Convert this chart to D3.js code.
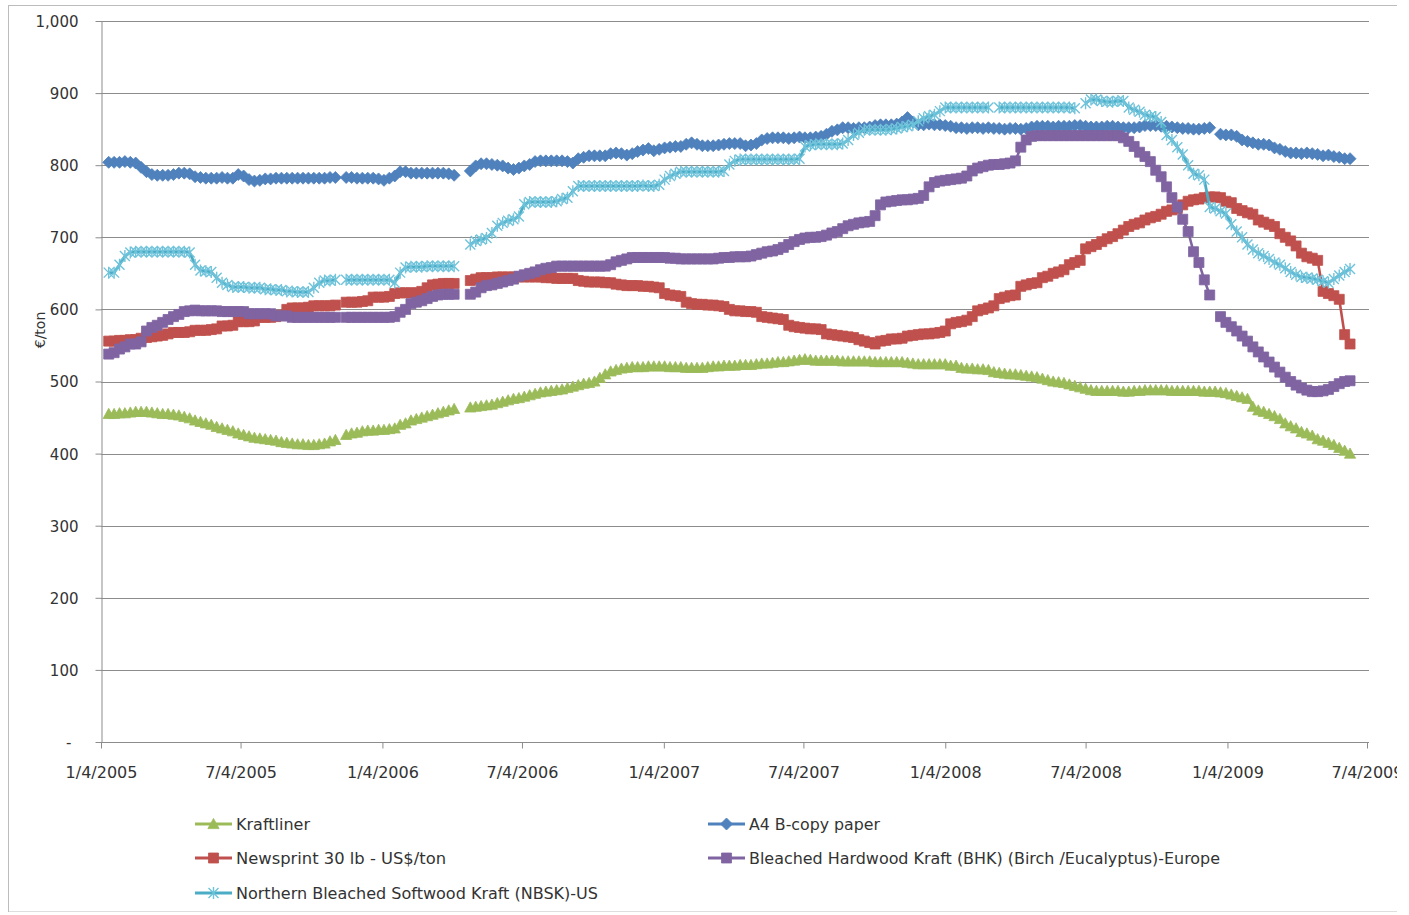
<!DOCTYPE html>
<html>
<head>
<meta charset="utf-8">
<script src="https://cdn.jsdelivr.net/npm/d3@7"></script>
<style>
  body { margin: 0; background: #ffffff; }
  svg text { font-family: "DejaVu Sans", Verdana, sans-serif; fill: #333333; }
  svg .legend text { font-family: "Liberation Sans Narrow", "DejaVu Sans Condensed", "Liberation Sans", sans-serif; }
</style>
</head>
<body>
<svg id="chart" width="1409" height="915"></svg>
<script>
// ---- data: weekly prices (Fridays), Jan 14 2005 .. Jun 12 2009, null = no quote ----
const firstWeek = new Date(2005, 0, 14);
const lastWeek = new Date(2009, 5, 12);

const yTicks = [0, 100, 200, 300, 400, 500, 600, 700, 800, 900, 1000];
const xTickLabels = ["1/4/2005", "7/4/2005", "1/4/2006", "7/4/2006", "1/4/2007",
                     "7/4/2007", "1/4/2008", "7/4/2008", "1/4/2009", "7/4/2009"];

const kraftliner = [
  455,455,456,456,457,458,458,458,457,456,455,455,454,453,
  451,449,446,444,442,440,437,435,433,431,428,426,424,422,421,420,419,418,416,415,414,413,413,412,412,413,414,417,419,
  null,
  426,428,429,431,432,432,433,433,434,435,440,442,446,448,450,452,454,456,458,460,462,
  null,null,
  464,465,466,467,468,470,472,474,476,477,479,481,483,485,486,487,488,489,491,493,495,497,498,500,505,510,514,516,518,519,
  520,520,520,521,521,521,521,520,520,520,519,519,519,519,520,521,521,522,522,522,523,523,523,524,
  525,525,526,527,527,528,529,530,531,530,529,529,529,529,529,528,528,528,528,528,528,527,
  527,527,527,527,527,526,525,524,524,524,524,524,524,522,522,
  519,518,518,517,517,516,
  513,512,511,510,510,509,508,507,506,
  504,502,500,499,498,496,494,492,
  490,488,487,487,487,487,487,486,486,487,487,488,488,488,488,488,487,487,487,487,487,487,486,486,486,
  485,484,482,480,478,476,465,460,458,455,452,448,442,438,435,430,428,425,420,418,415,412,408,404,400
];

const a4Copy = [
  804,804,804,805,804,803,
  797,791,787,
  786,786,786,787,789,789,788,
  784,783,782,782,782,783,782,782,
  787,785,780,778,779,
  781,781,782,782,782,782,782,782,782,782,782,782,783,783,
  null,
  783,783,782,782,782,782,781,779,782,785,
  791,791,789,789,789,789,789,789,789,788,786,
  null,null,
  792,799,802,802,801,800,799,796,794,796,799,801,805,806,806,806,806,806,805,803,
  809,811,813,813,813,813,816,817,816,814,816,819,821,823,820,822,824,825,826,826,
  829,831,829,827,827,827,828,829,830,830,830,
  827,828,830,835,837,838,838,838,837,838,839,838,838,839,840,843,847,849,852,852,
  851,852,852,853,855,856,856,856,857,860,866,860,856,856,857,856,856,855,854,852,
  852,851,852,852,851,852,851,851,850,851,851,850,851,853,854,854,854,853,854,854,854,
  855,855,854,853,853,853,854,854,853,852,852,852,853,855,855,855,854,854,853,852,851,851,850,850,851,852,
  null,
  843,842,842,840,835,833,831,829,829,828,824,822,819,817,817,816,817,816,815,813,814,812,811,809,809
];

const newsprint = [
  556,556,557,557,558,558,
  560,561,562,563,564,566,
  568,568,568,569,
  571,571,571,572,573,
  577,577,578,
  583,583,583,584,
  589,589,589,590,592,
  600,602,602,602,603,
  605,605,605,605,606,
  null,
  610,610,610,611,612,
  617,617,617,618,
  622,623,623,623,623,
  625,630,634,635,636,636,636,
  null,null,
  640,642,644,644,644,645,645,645,645,
  645,645,645,645,645,644,644,643,643,643,643,
  640,639,638,638,638,637,637,
  635,634,633,633,633,632,632,631,630,
  622,620,619,618,
  610,608,607,607,606,606,605,604,
  600,598,598,597,597,596,
  590,589,588,587,586,
  578,576,575,574,573,573,572,
  566,565,564,563,562,561,
  558,556,554,552,556,557,
  559,559,560,
  563,564,565,566,566,567,568,570,
  580,582,583,585,590,
  598,600,602,605,
  615,617,619,620,
  632,634,636,637,
  644,646,650,652,655,
  662,665,668,
  684,687,690,694,698,701,705,710,715,718,720,724,727,729,732,736,738,740,745,750,752,753,755,756,
  756,755,750,748,
  740,737,734,732,724,721,718,715,705,700,695,688,678,
  673,671,668,625,622,619,614,565,552
];

const bhk = [
  538,540,545,548,552,552,555,
  570,575,578,582,586,590,593,597,598,599,
  598,598,598,598,597,597,597,597,597,
  594,594,594,594,594,591,591,591,
  589,589,589,589,589,589,589,589,589,
  null,
  589,589,589,589,589,589,589,589,589,590,596,600,608,610,612,
  615,618,620,621,621,621,
  null,null,
  621,624,630,633,634,636,638,640,642,646,648,650,652,655,657,658,660,660,660,660,
  660,660,660,660,660,660,662,666,668,670,
  672,672,672,672,672,672,672,671,671,670,670,670,670,670,670,670,671,672,672,673,673,
  673,674,676,678,680,681,683,686,690,694,697,699,700,700,701,703,706,708,712,716,
  718,720,721,722,730,745,749,750,751,752,752,753,754,758,770,776,778,779,780,781,
  782,785,792,796,798,800,801,801,802,803,806,825,835,840,841,841,841,841,841,841,841,
  841,841,841,841,841,841,841,841,841,838,833,826,818,812,805,793,784,770,755,742,725,708,680,665,641,620,
  null,
  590,582,576,570,563,556,548,541,534,527,520,513,506,500,495,491,488,486,486,487,489,493,497,500,501
];

const nbsk = [
  651,651,
  662,674,679,680,680,680,680,680,680,680,680,680,680,679,
  662,654,653,652,
  644,637,634,631,
  631,631,630,630,630,
  628,628,627,627,
  625,625,624,624,624,
  630,637,640,640,641,
  null,
  641,641,641,641,641,641,641,641,641,
  637,
  651,658,659,659,659,
  660,660,660,660,660,660,
  null,null,
  690,695,697,699,706,716,720,723,725,729,
  746,749,749,749,749,749,750,753,755,
  764,771,771,771,771,771,771,771,771,771,771,771,771,772,771,771,773,
  780,785,788,791,791,791,791,791,791,791,791,792,
  801,806,808,
  808,808,808,808,808,808,808,808,808,808,809,
  826,828,829,829,829,829,829,830,
  835,842,845,849,849,849,849,849,850,851,
  853,854,856,861,865,868,870,875,880,
  880,880,880,880,880,880,880,880,
  null,
  880,880,880,880,880,880,880,880,880,880,880,880,880,880,879,
  null,
  886,891,891,889,888,888,889,889,
  880,877,874,870,868,867,860,842,835,825,815,800,788,786,780,742,740,736,733,718,708,
  700,690,683,678,674,670,665,662,657,652,648,645,644,643,641,639,637,642,647,652,656
];

const seriesNames = [
  "Kraftliner",
  "A4 B-copy paper",
  "Newsprint 30 lb  - US$/ton",
  "Bleached Hardwood Kraft (BHK) (Birch /Eucalyptus)-Europe",
  "Northern Bleached Softwood Kraft (NBSK)-US"
];

// ---- drawing ----
const weeks = d3.timeFriday.range(firstWeek, d3.timeDay.offset(lastWeek, 1));
const parseTick = d3.timeParse("%m/%d/%Y");
const xTickDates = xTickLabels.map(parseTick);

const svg = d3.select("#chart");
const plot = { left: 101, right: 1367, top: 21, bottom: 742 };

svg.append("defs").append("clipPath").attr("id", "frame")
  .append("rect").attr("x", 8).attr("y", 5).attr("width", 1389).attr("height", 907);

const root = svg.append("g").attr("clip-path", "url(#frame)");

// outer chart frame
root.append("rect")
  .attr("x", 8.5).attr("y", 5.5).attr("width", 1389).attr("height", 906.5)
  .attr("fill", "#ffffff").attr("stroke", "#bcbcbc").attr("stroke-width", 1);

const x = d3.scaleTime()
  .domain([new Date(2005, 0, 4), new Date(2009, 6, 4)])
  .range([plot.left, plot.right]);
const y = d3.scaleLinear().domain([0, 1000]).range([plot.bottom, plot.top]);

// horizontal gridlines
root.append("g").selectAll("line")
  .data(yTicks.filter(v => v > 0))
  .join("line")
  .attr("x1", plot.left).attr("x2", plot.right + 2)
  .attr("y1", d => Math.round(y(d)) + 0.5).attr("y2", d => Math.round(y(d)) + 0.5)
  .attr("stroke", "#8c8c8c").attr("stroke-width", 1);

// y axis
const yAxis = root.append("g").attr("transform", `translate(${plot.left + 0.5},0)`)
  .call(d3.axisLeft(y).tickValues(yTicks).tickSize(6).tickSizeOuter(0)
    .tickFormat(d => d === 0 ? "-" : d3.format(",")(d)));
yAxis.select(".domain").attr("stroke", "#8c8c8c");
yAxis.selectAll(".tick line").attr("stroke", "#8c8c8c");
yAxis.selectAll(".tick text")
  .attr("x", -23).attr("dy", "0.36em")
  .style("font-size", "15px").style("font-family", "\"DejaVu Sans\", Verdana, sans-serif")
  .attr("fill", "#333333");
yAxis.selectAll(".tick").filter(d => d === 0).select("text").attr("x", -30);

// x axis
const xAxis = root.append("g").attr("transform", `translate(0,${plot.bottom + 0.5})`)
  .call(d3.axisBottom(x).tickValues(xTickDates).tickSize(6).tickSizeOuter(0)
    .tickFormat(d3.timeFormat("%-m/%-d/%Y")));
xAxis.select(".domain").attr("stroke", "#8c8c8c").attr("d", `M${plot.left},0H${plot.right + 2}`);
xAxis.selectAll(".tick line").attr("stroke", "#8c8c8c");
xAxis.selectAll(".tick text")
  .attr("y", 24).attr("dy", "0.71em")
  .style("font-size", "16px").style("font-family", "\"DejaVu Sans\", Verdana, sans-serif")
  .attr("fill", "#333333");

// y title
root.append("text")
  .attr("transform", "translate(45,330) rotate(-90)")
  .attr("text-anchor", "middle")
  .style("font-size", "14px")
  .text("€/ton");

// marker shapes
const markerPath = {
  triangle: "M0,-5.6L5.6,4.6L-5.6,4.6Z",
  diamond: "M0,-6L6,0L0,6L-6,0Z",
  square: "M-5,-5H5V5H-5Z",
  star: "M-5,-5L5,5M-5,5L5,-5M0,-6V6"
};

const series = [
  { name: seriesNames[0], values: kraftliner, color: "#9BBB59", marker: "triangle" },
  { name: seriesNames[1], values: a4Copy,     color: "#4F81BD", marker: "diamond" },
  { name: seriesNames[2], values: newsprint,  color: "#C0504D", marker: "square" },
  { name: seriesNames[3], values: bhk,        color: "#8064A2", marker: "square" },
  { name: seriesNames[4], values: nbsk,       color: "#4BACC6", marker: "star" }
];

const line = d3.line()
  .defined(d => d.v !== null)
  .x(d => x(d.t)).y(d => y(d.v));

function drawMarker(sel, s) {
  if (s.marker === "star") {
    sel.append("path").attr("d", markerPath.star)
      .attr("fill", "none").attr("stroke", "#6fc3da").attr("stroke-width", 1.4);
  } else {
    sel.append("path").attr("d", markerPath[s.marker])
      .attr("fill", s.color).attr("stroke", s.color).attr("stroke-width", 0.8);
  }
}

const seriesG = root.append("g");
series.forEach(s => {
  const pts = weeks.map((t, i) => ({ t, v: s.values[i] === undefined ? null : s.values[i] }));
  const g = seriesG.append("g");
  g.append("path").datum(pts)
    .attr("d", line)
    .attr("fill", "none").attr("stroke", s.color)
    .attr("stroke-width", s.marker === "star" ? 2.8 : 2.6)
    .attr("stroke-linejoin", "round");
  g.selectAll("g.pt").data(pts.filter(d => d.v !== null)).join("g")
    .attr("class", "pt")
    .attr("transform", d => `translate(${x(d.t)},${y(d.v)})`)
    .each(function () { drawMarker(d3.select(this), s); });
});

// legend
const legendItems = [
  { s: series[0], lx: 195, ly: 824, w: 74 },
  { s: series[1], lx: 708, ly: 824, w: 131 },
  { s: series[2], lx: 195, ly: 858, w: 210 },
  { s: series[3], lx: 708, ly: 858, w: 471 },
  { s: series[4], lx: 195, ly: 893, w: 362 }
];
const legend = root.append("g").attr("class", "legend");
legendItems.forEach(it => {
  const g = legend.append("g").attr("transform", `translate(${it.lx},${it.ly})`);
  g.append("line").attr("x1", 0).attr("x2", 37).attr("y1", 0).attr("y2", 0)
    .attr("stroke", it.s.color).attr("stroke-width", 2.8);
  const m = g.append("g").attr("transform", "translate(18.5,0)");
  drawMarker(m, it.s);
  g.append("text")
    .attr("x", 41).attr("y", 0).attr("dy", "0.36em")
    .attr("textLength", it.w).attr("lengthAdjust", "spacingAndGlyphs")
    .style("font-size", "16px")
    .attr("fill", "#222222")
    .text(it.s.name);
});
</script>
</body>
</html>
